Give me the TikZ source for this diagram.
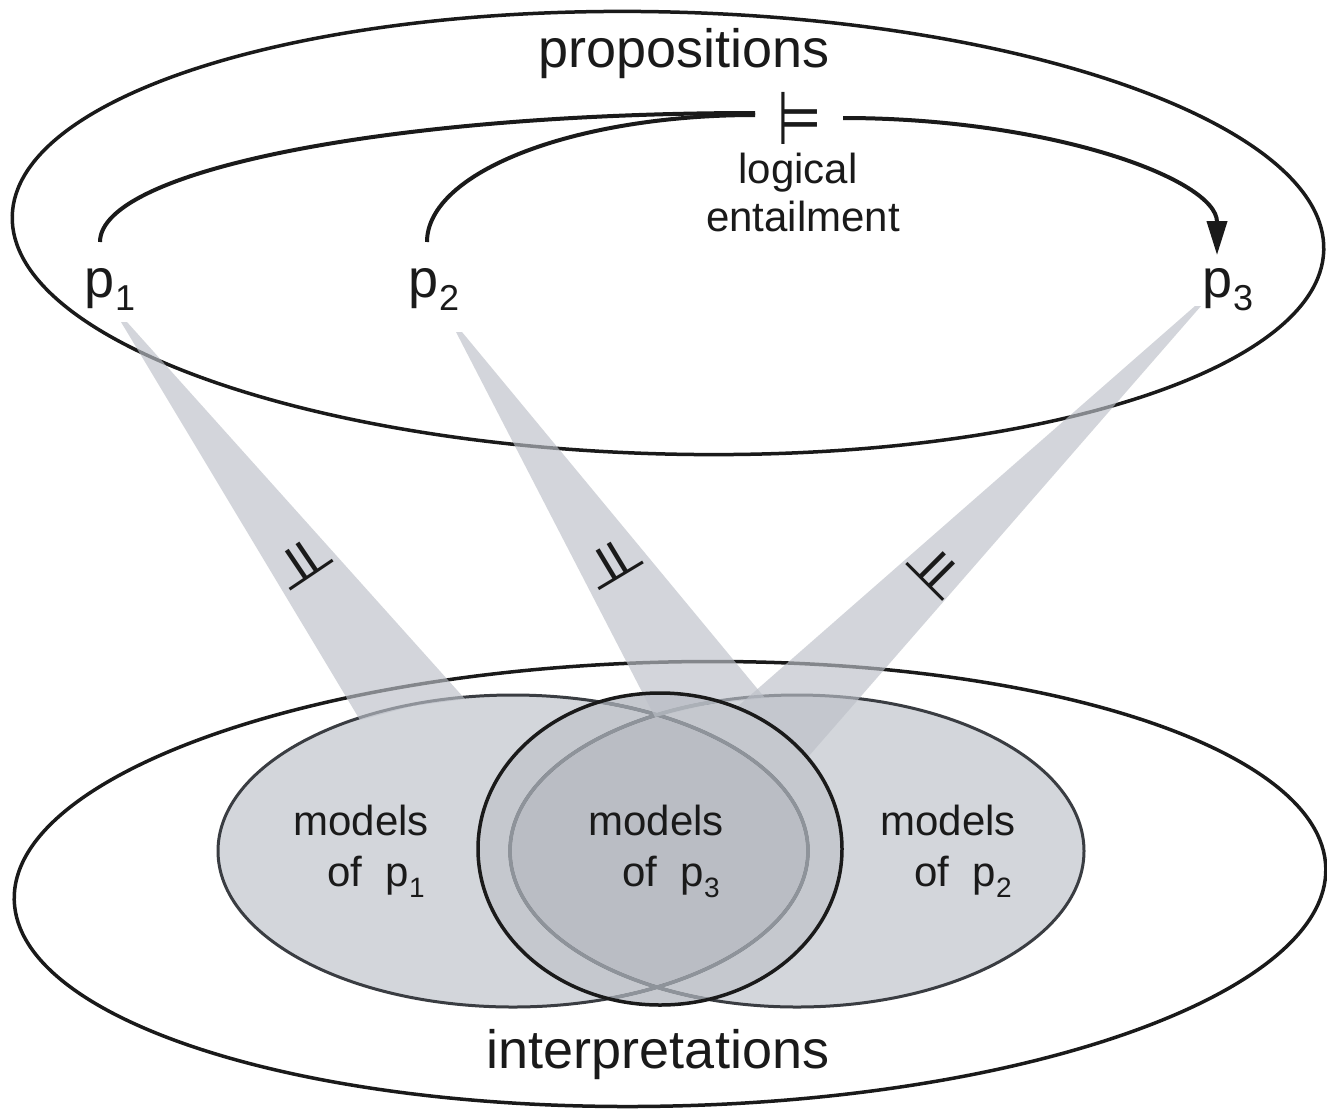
\documentclass[tikz,border=0pt]{standalone}
\usepackage{fontspec}
\setmainfont{Liberation Sans}
\newfontfamily\dejavu{DejaVu Sans}
\usetikzlibrary{arrows.meta}
\definecolor{ink}{HTML}{1A1A1A}
\definecolor{vfill}{HTML}{D3D6DB}
\definecolor{vring}{HTML}{C5C8CE}
\definecolor{vlens}{HTML}{BABDC4}
\definecolor{vline}{HTML}{3A3D42}
\definecolor{vlinein}{HTML}{8E939A}
\definecolor{beamc}{HTML}{BCC0C8}
\newcommand\psubbig[1]{p\raisebox{-13pt}{\fontsize{36}{36}\selectfont #1}}
\newcommand\psubsmall[1]{p\raisebox{-11pt}{\fontsize{28}{28}\selectfont #1}}
\newcommand\entglyph{\scalebox{0.82}[1.2]{⊨}}
\begin{document}
\begin{tikzpicture}[x=1pt,y=-1pt,
  outerell/.style={draw=ink, line width=3.5pt},
  conn/.style={draw=ink, line width=4pt},
  beamfill/.style={fill=beamc, fill opacity=0.65},
  lbl/.style={inner sep=0pt, text=ink, font=\fontsize{54}{60}\selectfont},
  mlbl/.style={inner sep=0pt, text=ink, font=\fontsize{42}{50}\selectfont},
  entsym/.style={inner sep=0pt, text=ink, font=\fontsize{62}{62}\selectfont\dejavu},
]
\fill[white] (0,0) rectangle (1327,1109);
\useasboundingbox (0,0) rectangle (1327,1109);

% outer sets
\draw[outerell, rotate around={-1.5:(668,233)}] (668,233) ellipse [x radius=656, y radius=221];
\draw[outerell, rotate around={1.4:(670,884)}] (670,884) ellipse [x radius=656, y radius=222];

% venn fills
\fill[vfill] (513,851) ellipse [x radius=295, y radius=156];
\fill[vfill] (797,851) ellipse [x radius=287, y radius=156];
\fill[vring] (660,849) ellipse [x radius=182, y radius=156];
\begin{scope}
  \clip (513,851) ellipse [x radius=295, y radius=156];
  \fill[vlens] (797,851) ellipse [x radius=287, y radius=156];
\end{scope}
% venn outlines
\draw[draw=vline, line width=3pt] (513,851) ellipse [x radius=295, y radius=156];
\draw[draw=vline, line width=3pt] (797,851) ellipse [x radius=287, y radius=156];
\begin{scope}
  \clip (660,849) ellipse [x radius=182, y radius=156];
  \draw[draw=vlinein, line width=3.6pt] (513,851) ellipse [x radius=295, y radius=156];
  \draw[draw=vlinein, line width=3.6pt] (797,851) ellipse [x radius=287, y radius=156];
\end{scope}

% beams
\fill[beamfill] (121,322) -- (127,322) -- (465,699) -- (412,706) -- (360,720) -- cycle;
\fill[beamfill] (456,332) -- (462,332) -- (765,698) -- (710,704) -- (655,717) -- cycle;
\fill[beamfill] (1195,306) -- (1201,306) -- (808,757) -- (771,726) -- (737,707) -- cycle;

% circle of p3 models
\draw[draw=ink, line width=3.5pt] (660,849) ellipse [x radius=182, y radius=156];

% texts
\node[lbl, anchor=base] (props) at (684,67) {propositions};
\node[lbl, anchor=base] (interp) at (658,1068) {interpretations};
\node[mlbl, anchor=base] (logic) at (798,183) {logical};
\node[mlbl, anchor=base] (entail) at (803,231) {entailment};
\node[lbl, anchor=base] (p1) at (110,297) {\psubbig{1}};
\node[lbl, anchor=base] (p2) at (434,297) {\psubbig{2}};
\node[lbl, anchor=base] (p3) at (1228,297) {\psubbig{3}};

\node[mlbl, anchor=base east] (m1a) at (429,835) {models};
\node[mlbl, anchor=base east] (m1b) at (425,886) {of~~\psubsmall{1}};
\node[mlbl, anchor=base east] (m3a) at (724,835) {models};
\node[mlbl, anchor=base east] (m3b) at (720,886) {of~~\psubsmall{3}};
\node[mlbl, anchor=base east] (m2a) at (1016,835) {models};
\node[mlbl, anchor=base east] (m2b) at (1012,886) {of~~\psubsmall{2}};

\node[entsym] (ent) at (800,118) {\entglyph};
\node[entsym, rotate=124] (e1) at (303,562) {\entglyph};
\node[entsym, rotate=121] (e2) at (613,562) {\entglyph};
\node[entsym, rotate=45] (e3) at (937,570) {\entglyph};

% entailment connectors
\draw[conn] ([shift={(-10,-55)}]p1.base) .. controls +(0,-72) and +(-362,0) .. ([shift={(-45,-5)}]ent.center);
\draw[conn] ([shift={(-7,-55)}]p2.base) .. controls +(0,-70) and +(-181,0) .. ([shift={(-45,-3)}]ent.center);
\draw[conn, -{Triangle[length=34pt,width=20pt]}] ([shift={(43,0)}]ent.center) .. controls +(206,0) and +(0,-76) .. ([shift={(-11,-42)}]p3.base);
\end{tikzpicture}
\end{document}
